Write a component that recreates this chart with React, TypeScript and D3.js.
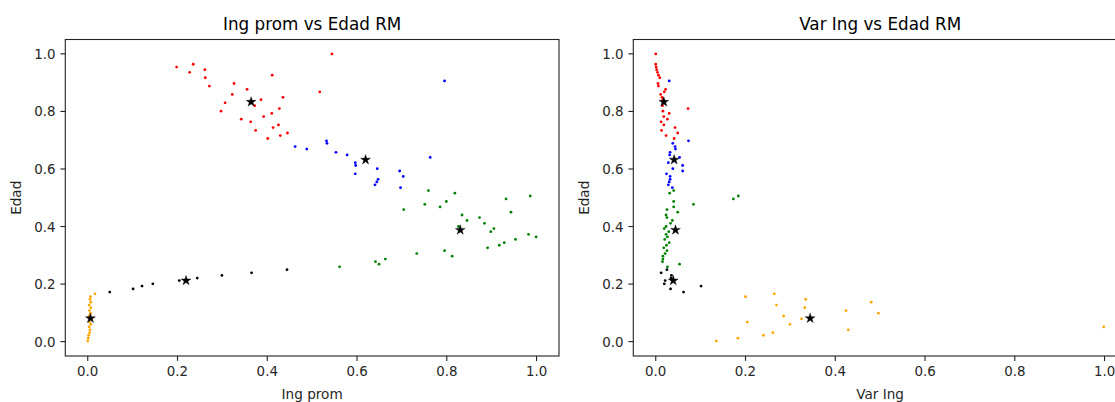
import React from "react";
import * as d3 from "d3";

// Cluster members: edad, average income, income variance (normalised 0..1)
const redEdad = [1.0, 0.964, 0.954, 0.945, 0.936, 0.926, 0.917, 0.897, 0.888, 0.877, 0.868, 0.859, 0.849, 0.841, 0.83, 0.82, 0.81, 0.801, 0.793, 0.782, 0.773, 0.764, 0.753, 0.744, 0.734, 0.725, 0.716, 0.706];
const redIngProm = [0.544, 0.235, 0.198, 0.261, 0.227, 0.411, 0.262, 0.326, 0.271, 0.355, 0.517, 0.322, 0.435, 0.386, 0.306, 0.372, 0.427, 0.297, 0.41, 0.392, 0.342, 0.363, 0.425, 0.413, 0.374, 0.445, 0.429, 0.401];
const redVarIng = [0.0, 0.0, 0.001, 0.002, 0.004, 0.006, 0.009, 0.005, 0.006, 0.022, 0.019, 0.011, 0.014, 0.016, 0.018, 0.015, 0.072, 0.016, 0.03, 0.018, 0.026, 0.012, 0.018, 0.043, 0.013, 0.049, 0.023, 0.041];

const blueEdad = [0.906, 0.698, 0.689, 0.678, 0.669, 0.658, 0.649, 0.64, 0.622, 0.612, 0.601, 0.593, 0.583, 0.574, 0.564, 0.555, 0.545, 0.535];
const blueIngProm = [0.795, 0.532, 0.533, 0.462, 0.488, 0.553, 0.578, 0.763, 0.596, 0.597, 0.645, 0.695, 0.596, 0.703, 0.647, 0.644, 0.64, 0.697];
const blueVarIng = [0.03, 0.073, 0.038, 0.043, 0.044, 0.032, 0.031, 0.053, 0.028, 0.06, 0.038, 0.06, 0.024, 0.032, 0.032, 0.03, 0.028, 0.037];

const greenEdad = [0.525, 0.516, 0.506, 0.496, 0.487, 0.477, 0.468, 0.459, 0.45, 0.44, 0.431, 0.421, 0.411, 0.4, 0.393, 0.382, 0.373, 0.364, 0.355, 0.344, 0.335, 0.326, 0.316, 0.306, 0.297, 0.287, 0.278, 0.269, 0.26];
const greenIngProm = [0.759, 0.818, 0.986, 0.932, 0.799, 0.751, 0.785, 0.704, 0.943, 0.834, 0.873, 0.845, 0.884, 0.826, 0.905, 0.898, 0.982, 0.999, 0.953, 0.928, 0.917, 0.891, 0.795, 0.733, 0.812, 0.663, 0.641, 0.649, 0.561];
const greenVarIng = [0.04, 0.031, 0.184, 0.173, 0.04, 0.084, 0.04, 0.025, 0.049, 0.023, 0.025, 0.037, 0.033, 0.023, 0.019, 0.029, 0.023, 0.026, 0.02, 0.03, 0.024, 0.018, 0.025, 0.021, 0.016, 0.016, 0.015, 0.053, 0.026];

const blackEdad = [0.25, 0.239, 0.23, 0.221, 0.212, 0.201, 0.193, 0.183, 0.172];
const blackIngProm = [0.444, 0.365, 0.299, 0.244, 0.204, 0.145, 0.121, 0.101, 0.049];
const blackVarIng = [0.025, 0.012, 0.035, 0.034, 0.021, 0.019, 0.101, 0.033, 0.062];

const orangeEdad = [0.166, 0.156, 0.147, 0.137, 0.127, 0.118, 0.108, 0.099, 0.089, 0.079, 0.068, 0.06, 0.051, 0.041, 0.031, 0.022, 0.012, 0.002];
const orangeIngProm = [0.016, 0.006, 0.005, 0.007, 0.003, 0.007, 0.004, 0.006, 0.003, 0.007, 0.004, 0.007, 0.003, 0.005, 0.004, 0.002, 0.001, 0.0];
const orangeVarIng = [0.264, 0.2, 0.334, 0.48, 0.269, 0.332, 0.424, 0.496, 0.285, 0.325, 0.204, 0.299, 0.998, 0.429, 0.261, 0.24, 0.183, 0.135];

// Cluster centroids (red, blue, green, black, orange)
const centroidEdad = [0.833, 0.632, 0.388, 0.212, 0.081];
const centroidIngProm = [0.364, 0.619, 0.83, 0.219, 0.006];
const centroidVarIng = [0.018, 0.041, 0.044, 0.039, 0.344];

const tickValues = [0, 0.2, 0.4, 0.6, 0.8, 1.0];

type Cluster = { color: string; edad: number[]; ingProm: number[]; varIng: number[] };
const clusters: Cluster[] = [
  { color: "#ff0000", edad: redEdad, ingProm: redIngProm, varIng: redVarIng },
  { color: "#0000ff", edad: blueEdad, ingProm: blueIngProm, varIng: blueVarIng },
  { color: "#008000", edad: greenEdad, ingProm: greenIngProm, varIng: greenVarIng },
  { color: "#000000", edad: blackEdad, ingProm: blackIngProm, varIng: blackVarIng },
  { color: "#ffa500", edad: orangeEdad, ingProm: orangeIngProm, varIng: orangeVarIng },
];

const W = 1115;
const H = 402;
const TOP = 39.5;
const BOTTOM = 356;
const FONT = "DejaVu Sans, sans-serif";
const TICK_FS = 13.4;
const LABEL_FS = 13.6;
const TITLE_FS = 16.8;
const TICK_LEN = 4.9;

const fmt = d3.format(".1f");
const starPath = d3.symbol().type(d3.symbolStar).size(30)() as string;

function Panel({ x0, x1, title, xLabel, field }: { x0: number; x1: number; title: string; xLabel: string; field: "ingProm" | "varIng" }) {
  const x = d3.scaleLinear().domain([-0.05, 1.05]).range([x0, x1]);
  const y = d3.scaleLinear().domain([-0.05, 1.05]).range([BOTTOM, TOP]);
  const cx = (x0 + x1) / 2;
  const centroidX = field === "ingProm" ? centroidIngProm : centroidVarIng;
  return (
    <g>
      <text x={cx} y={30} textAnchor="middle" fontFamily={FONT} fontSize={TITLE_FS} fill="#000">{title}</text>
      {clusters.map((c, ci) => (
        <g key={ci} fill={c.color}>
          {c.edad.map((e, i) => (
            <circle key={i} cx={x(c[field][i])} cy={y(e)} r={1.4} />
          ))}
        </g>
      ))}
      {centroidEdad.map((e, i) => (
        <path key={i} d={starPath} transform={`translate(${x(centroidX[i])},${y(e)})`} fill="#000" stroke="#000" strokeWidth={0.4} />
      ))}
      <rect x={x0} y={TOP} width={x1 - x0} height={BOTTOM - TOP} fill="none" stroke="#222" strokeWidth={1.1} />
      {tickValues.map((t) => (
        <g key={"x" + t}>
          <line x1={x(t)} x2={x(t)} y1={BOTTOM} y2={BOTTOM + TICK_LEN} stroke="#222" strokeWidth={1.1} />
          <text x={x(t)} y={BOTTOM + 2 * TICK_LEN + 10} textAnchor="middle" fontFamily={FONT} fontSize={TICK_FS} fill="#262626">{fmt(t)}</text>
        </g>
      ))}
      {tickValues.map((t) => (
        <g key={"y" + t}>
          <line x1={x0 - TICK_LEN} x2={x0} y1={y(t)} y2={y(t)} stroke="#222" strokeWidth={1.1} />
          <text x={x0 - 2 * TICK_LEN} y={y(t) + 5} textAnchor="end" fontFamily={FONT} fontSize={TICK_FS} fill="#262626">{fmt(t)}</text>
        </g>
      ))}
      <text x={cx} y={399} textAnchor="middle" fontFamily={FONT} fontSize={LABEL_FS} fill="#262626">{xLabel}</text>
      <text transform={`translate(${x0 - 44},${(TOP + BOTTOM) / 2}) rotate(-90)`} textAnchor="middle" fontFamily={FONT} fontSize={LABEL_FS} fill="#262626">Edad</text>
    </g>
  );
}

export default function App() {
  return (
    <svg width={W} height={H} style={{ position: "absolute", left: 0, top: 0, background: "#fff" }}>
      <rect width={W} height={H} fill="#fff" />
      <Panel x0={65.3} x1={559} title="Ing prom vs Edad RM" xLabel="Ing prom" field="ingProm" />
      <Panel x0={633.3} x1={1127} title="Var Ing vs Edad RM" xLabel="Var Ing" field="varIng" />
    </svg>
  );
}
